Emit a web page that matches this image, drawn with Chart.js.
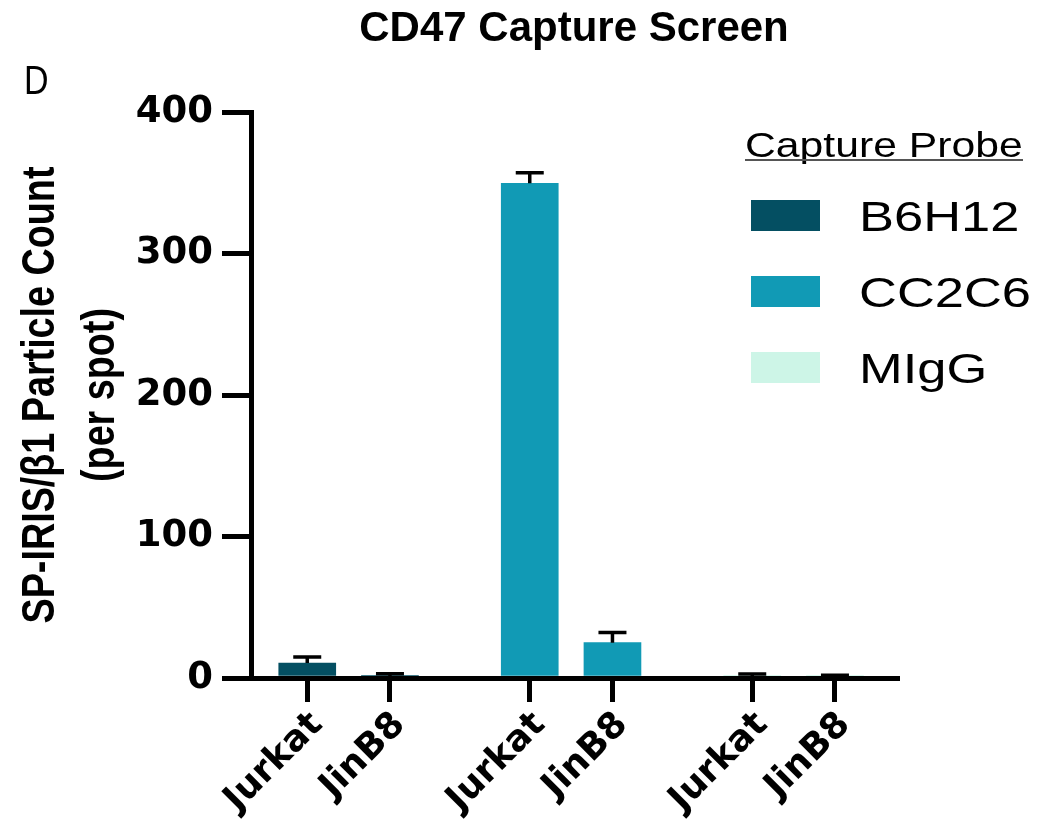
<!DOCTYPE html>
<html>
<head>
<meta charset="utf-8">
<script src="https://cdn.jsdelivr.net/npm/chart.js@4.4.1/dist/chart.umd.min.js"></script>
<style>
    body { margin: 0; background: #fff; }
    #chart-container { position: relative; width: 1063px; height: 823px; }
</style>
</head>
<body>
<div id="chart-container"><canvas id="capture-chart"></canvas></div>
<script>
// values
const probes = ['B6H12', 'CC2C6', 'MIgG'];
const cellLines = ['Jurkat', 'JinB8'];
const b6h12Means = [10.6, 1.0];
const b6h12Errors = [4.3, 2.0];
const cc2c6Means = [349.6, 25.0];
const cc2c6Errors = [7.5, 7.2];
const migMeans = [1.0, 0.5];
const migErrors = [1.8, 1.5];
const yTicks = [0, 100, 200, 300, 400];
const yTitle = ['SP-IRIS/\u03b21 Particle Count', '(per spot)'];

const probeColors = ['#044f62', '#119ab5', '#cdf5e7'];
const GROUP_STEP = 2.69; // distance between probe groups, in bar slots
const arial = '"Liberation Sans", Arial, sans-serif';
const verd = '"DejaVu Sans", Verdana, sans-serif';

const means = [b6h12Means, cc2c6Means, migMeans];
const errors = [b6h12Errors, cc2c6Errors, migErrors];

function slot(g, c) {
    return g * GROUP_STEP + c;
}

const tickPositions = [];
const tickLabels = [];
probes.forEach((p, g) => {
    cellLines.forEach((name, c) => {
        tickPositions.push(slot(g, c));
        tickLabels.push(name);
    });
});

const datasets = probes.map((p, g) => ({
    label: p,
    data: means[g].map((v, c) => ({ x: slot(g, c), y: v })),
    errors: errors[g],
    backgroundColor: probeColors[g],
    barThickness: 57,
    grouped: false
}));

// upper error bars, Prism style
const errorBars = {
    id: 'errorBars',
    afterDatasetsDraw(chart) {
        const ctx = chart.ctx;
        const yScale = chart.scales.y;
        ctx.save();
        ctx.strokeStyle = '#000';
        ctx.lineWidth = 3.5;
        chart.data.datasets.forEach((ds, i) => {
            const meta = chart.getDatasetMeta(i);
            meta.data.forEach((bar, j) => {
                const top = yScale.getPixelForValue(ds.data[j].y + ds.errors[j]);
                ctx.beginPath();
                ctx.moveTo(bar.x, bar.y);
                ctx.lineTo(bar.x, top);
                ctx.moveTo(bar.x - 14, top);
                ctx.lineTo(bar.x + 14, top);
                ctx.stroke();
            });
        });
        ctx.restore();
    }
};

// panel letter, condensed y title and the legend on the right
const extras = {
    id: 'extras',
    afterDraw(chart) {
        const ctx = chart.ctx;
        const area = chart.chartArea;
        ctx.save();
        ctx.fillStyle = '#000';
        ctx.textBaseline = 'alphabetic';
        ctx.textAlign = 'left';

        ctx.save();
        ctx.translate(24, 94);
        ctx.scale(0.85, 1);
        ctx.font = '40px ' + arial;
        ctx.fillText('D', 0, 0);
        ctx.restore();

        // y axis title, narrow bold like the original
        ctx.save();
        ctx.translate(0, (area.top + area.bottom) / 2);
        ctx.rotate(-Math.PI / 2);
        ctx.scale(0.82, 1);
        ctx.textAlign = 'center';
        ctx.textBaseline = 'middle';
        ctx.font = 'bold 46px ' + arial;
        yTitle.forEach((line, i) => ctx.fillText(line, 0, 41 + i * 60));
        ctx.restore();

        // legend title, a bit stretched like the original
        ctx.save();
        ctx.translate(745, 157);
        ctx.scale(1.22, 1);
        ctx.font = '35px ' + arial;
        ctx.fillText('Capture Probe', 0, 0);
        ctx.restore();
        ctx.strokeStyle = '#555';
        ctx.lineWidth = 2;
        ctx.beginPath();
        ctx.moveTo(745, 160);
        ctx.lineTo(1023, 160);
        ctx.stroke();

        chart.data.datasets.forEach((ds, i) => {
            const top = 200 + i * 76;
            ctx.fillStyle = ds.backgroundColor;
            ctx.fillRect(751, top, 69, 31);
            ctx.save();
            ctx.translate(859, top + 31);
            ctx.scale(1.22, 1);
            ctx.fillStyle = '#000';
            ctx.font = '43px ' + arial;
            ctx.fillText(ds.label, 0, 0);
            ctx.restore();
        });
        ctx.restore();
    }
};

const ctx = document.getElementById('capture-chart').getContext('2d');
new Chart(ctx, {
    type: 'bar',
    data: { datasets: datasets },
    options: {
        responsive: true,
        maintainAspectRatio: false,
        animation: false,
        layout: { padding: { top: 0, right: 166, left: 0, bottom: 0 } },
        plugins: {
            legend: { display: false },
            tooltip: { enabled: false },
            title: {
                display: true,
                text: 'CD47 Capture Screen',
                fullSize: false,
                color: '#000',
                font: { family: arial, size: 42, weight: 'bold', lineHeight: 1.2 },
                padding: { top: 4, bottom: 57.6 }
            }
        },
        scales: {
            x: {
                type: 'linear',
                offset: false,
                min: -0.68,
                max: 7.13,
                afterBuildTicks: (scale) => {
                    scale.ticks = tickPositions.map(v => ({ value: v }));
                },
                afterFit: (scale) => { scale.height = 145; },
                ticks: {
                    autoSkip: false,
                    minRotation: 45,
                    maxRotation: 45,
                    padding: 2,
                    labelOffset: 10,
                    color: '#000',
                    font: { family: verd, size: 36, weight: 'bold' },
                    callback: (value, index) => tickLabels[index]
                },
                grid: {
                    offset: false,
                    drawOnChartArea: false,
                    tickLength: 24,
                    lineWidth: 5,
                    color: '#000'
                },
                border: { color: '#000', width: 5, z: 1 }
            },
            y: {
                min: 0,
                max: 400,
                afterBuildTicks: (scale) => {
                    scale.ticks = yTicks.map(v => ({ value: v }));
                },
                afterFit: (scale) => { scale.width = 251; },
                ticks: {
                    padding: 9,
                    color: '#000',
                    font: { family: verd, size: 37, weight: 'bold' }
                },
                grid: {
                    drawOnChartArea: false,
                    tickLength: 29,
                    lineWidth: 5,
                    color: '#000'
                },
                border: { color: '#000', width: 5, z: 1 }
            }
        }
    },
    plugins: [errorBars, extras]
});
</script>
</body>
</html>
